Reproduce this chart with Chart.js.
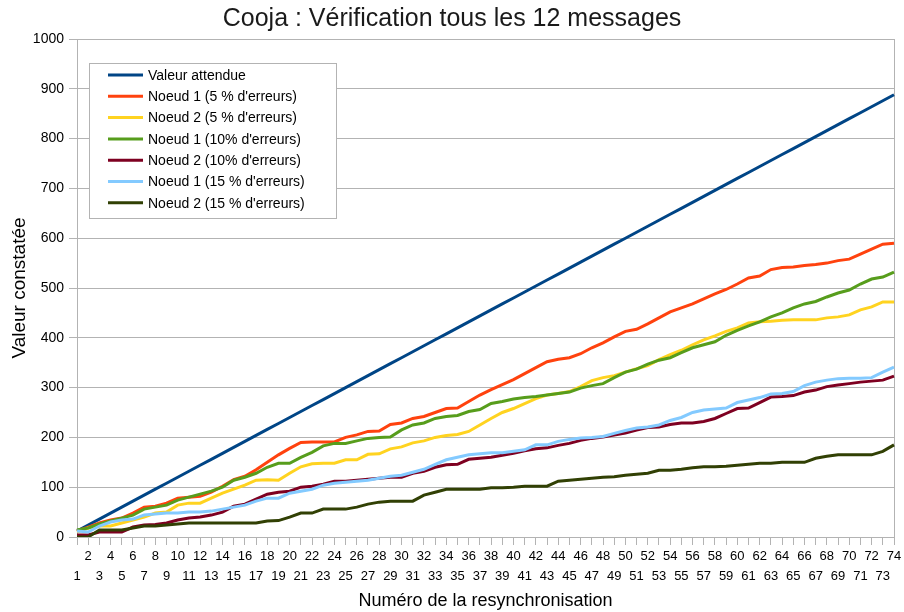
<!DOCTYPE html>
<html lang="fr">
<head>
<meta charset="utf-8">
<title>Cooja : Vérification tous les 12 messages</title>
<script src="https://cdn.jsdelivr.net/npm/chart.js@4.4.1/dist/chart.umd.min.js"></script>
<style>
    html, body { margin: 0; padding: 0; background: #fff; }
    #wrap { width: 904px; height: 612px; }
</style>
</head>
<body>
<div id="wrap"><canvas id="chart" width="904" height="612"></canvas></div>
<script>
// Numéro de la resynchronisation
const categories = [1, 2, 3, 4, 5, 6, 7, 8, 9, 10, 11, 12, 13, 14, 15, 16, 17, 18, 19, 20,
    21, 22, 23, 24, 25, 26, 27, 28, 29, 30, 31, 32, 33, 34, 35, 36, 37, 38, 39, 40,
    41, 42, 43, 44, 45, 46, 47, 48, 49, 50, 51, 52, 53, 54, 55, 56, 57, 58, 59, 60,
    61, 62, 63, 64, 65, 66, 67, 68, 69, 70, 71, 72, 73, 74];

const valeurAttendue = [12, 24, 36, 48, 60, 72, 84, 96, 108, 120, 132, 144, 156, 168, 180, 192, 204, 216, 228, 240,
    252, 264, 276, 288, 300, 312, 324, 336, 348, 360, 372, 384, 396, 408, 420, 432, 444, 456, 468, 480,
    492, 504, 516, 528, 540, 552, 564, 576, 588, 600, 612, 624, 636, 648, 660, 672, 684, 696, 708, 720,
    732, 744, 756, 768, 780, 792, 804, 816, 828, 840, 852, 864, 876, 888];

const noeud1_5 = [12, 20, 28, 34, 38, 48, 60, 62, 68, 78, 80, 82, 90, 102, 115, 122, 135, 150, 165, 178,
    190, 191, 191, 191, 200, 205, 212, 213, 226, 229, 238, 242, 250, 258, 259, 272, 285, 296, 306, 316,
    328, 340, 352, 357, 360, 368, 380, 390, 402, 413, 417, 428, 440, 452, 460, 468, 478, 488, 497, 508,
    520, 524, 537, 541, 542, 545, 547, 550, 555, 558, 568, 578, 588, 590];

const noeud2_5 = [10, 18, 22, 22, 28, 34, 40, 48, 50, 64, 68, 68, 78, 88, 96, 104, 114, 115, 114, 128,
    141, 147, 148, 148, 155, 155, 166, 167, 177, 181, 189, 193, 200, 204, 206, 212, 225, 238, 250, 258,
    268, 278, 285, 288, 292, 302, 314, 320, 324, 331, 338, 344, 356, 366, 375, 386, 396, 404, 413, 420,
    430, 432, 433, 435, 436, 436, 436, 440, 442, 446, 456, 462, 472, 472];

const noeud1_10 = [14, 18, 26, 32, 38, 44, 56, 60, 64, 74, 80, 86, 92, 100, 114, 120, 128, 140, 148, 148,
    160, 170, 183, 188, 188, 193, 198, 200, 201, 215, 225, 229, 238, 242, 244, 252, 256, 268, 272, 277,
    280, 282, 285, 288, 291, 299, 304, 308, 320, 331, 337, 347, 355, 360, 370, 380, 386, 392, 405, 415,
    424, 432, 442, 450, 460, 468, 473, 482, 490, 496, 508, 518, 522, 532];

const noeud2_10 = [4, 4, 10, 10, 10, 20, 24, 25, 28, 34, 38, 40, 44, 50, 62, 66, 76, 86, 90, 92,
    100, 102, 106, 112, 112, 114, 116, 118, 120, 120, 128, 132, 140, 145, 146, 156, 158, 160, 164, 168,
    173, 177, 179, 184, 188, 194, 198, 201, 205, 209, 215, 220, 221, 226, 229, 229, 232, 238, 248, 258,
    259, 270, 281, 282, 284, 291, 295, 302, 305, 308, 311, 313, 315, 323];

const noeud1_15 = [12, 10, 22, 30, 34, 36, 44, 46, 48, 48, 50, 50, 52, 56, 60, 64, 72, 78, 78, 88,
    92, 96, 104, 108, 110, 112, 114, 118, 122, 124, 130, 136, 146, 155, 160, 165, 167, 169, 169, 172,
    175, 185, 185, 192, 196, 199, 200, 202, 208, 214, 219, 221, 225, 234, 240, 250, 255, 257, 259, 270,
    275, 280, 287, 288, 292, 304, 311, 315, 318, 319, 319, 320, 331, 341];

const noeud2_15 = [0, 0, 14, 14, 14, 18, 22, 22, 24, 26, 28, 28, 28, 28, 28, 28, 28, 32, 33, 40,
    48, 48, 56, 56, 56, 60, 66, 70, 72, 72, 72, 84, 90, 96, 96, 96, 96, 99, 99, 100,
    102, 102, 102, 112, 114, 116, 118, 120, 121, 124, 126, 128, 134, 134, 136, 139, 141, 141, 142, 144,
    146, 148, 148, 150, 150, 150, 158, 162, 165, 165, 165, 165, 172, 185];

const seriesLabels = ['Valeur attendue', "Noeud 1 (5 % d'erreurs)", "Noeud 2 (5 % d'erreurs)",
    "Noeud 1 (10% d'erreurs)", "Noeud 2 (10% d'erreurs)", "Noeud 1 (15 % d'erreurs)", "Noeud 2 (15 % d'erreurs)"];
const seriesData = [valeurAttendue, noeud1_5, noeud2_5, noeud1_10, noeud2_10, noeud1_15, noeud2_15];
const seriesColors = ['#004586', '#ff420e', '#ffd320', '#579d1c', '#7e0021', '#83caff', '#314004'];

const yTicks = [0, 100, 200, 300, 400, 500, 600, 700, 800, 900, 1000];

const FONT = '"Liberation Sans", Arial, sans-serif';
const GRID = '#b3b3b3';

Chart.defaults.font.family = FONT;
Chart.defaults.color = '#000';

// Legend box drawn inside the plot area, top left
const legendBox = {
    id: 'legendBox',
    afterDatasetsDraw(chart) {
        const ctx = chart.ctx;
        const area = chart.chartArea;
        const x = area.left + 12, y = area.top + 24, w = 247, h = 155;
        ctx.save();
        ctx.fillStyle = '#fff';
        ctx.fillRect(x, y, w, h);
        ctx.strokeStyle = GRID;
        ctx.lineWidth = 1;
        ctx.strokeRect(x + 0.5, y + 0.5, w, h);
        ctx.font = '14px ' + FONT;
        ctx.textBaseline = 'middle';
        chart.data.datasets.forEach((ds, i) => {
            const cy = y + 12 + i * 21.3;
            ctx.strokeStyle = ds.borderColor;
            ctx.lineWidth = 3;
            ctx.beginPath();
            ctx.moveTo(x + 19, cy);
            ctx.lineTo(x + 54, cy);
            ctx.stroke();
            ctx.fillStyle = '#000';
            ctx.fillText(ds.label, x + 59, cy + 1);
        });
        ctx.restore();
    }
};

new Chart(document.getElementById('chart').getContext('2d'), {
    type: 'line',
    data: {
        labels: categories,
        datasets: seriesData.map((d, i) => ({
            label: seriesLabels[i],
            data: d,
            borderColor: seriesColors[i],
            backgroundColor: seriesColors[i],
            borderWidth: 3,
            pointRadius: 0,
            tension: 0,
            fill: false,
            order: seriesData.length - i
        }))
    },
    options: {
        responsive: false,
        animation: false,
        devicePixelRatio: 1,
        layout: { padding: 0 },
        plugins: {
            legend: { display: false },
            tooltip: { enabled: false },
            title: {
                display: true,
                text: 'Cooja : Vérification tous les 12 messages',
                font: { size: 25, weight: 'normal' },
                color: '#1a1a1a',
                padding: { top: 4, bottom: 5 }
            }
        },
        scales: {
            x: {
                offset: false,
                grid: { display: true, drawOnChartArea: false, tickLength: 8, color: GRID },
                border: { color: GRID },
                ticks: {
                    autoSkip: false,
                    maxRotation: 0,
                    minRotation: 0,
                    padding: 2,
                    font: { size: 13, lineHeight: 1.5 },
                    callback: function(value, index) {
                        const n = categories[index];
                        return n % 2 === 0 ? [String(n), ''] : ['', String(n)];
                    }
                },
                title: {
                    display: true,
                    text: 'Numéro de la resynchronisation',
                    font: { size: 18 },
                    padding: { top: 0, bottom: 0 }
                },
                afterFit: s => { s.height = 75; }
            },
            y: {
                min: 0,
                max: 1000,
                afterBuildTicks: s => { s.ticks = yTicks.map(v => ({ value: v })); },
                grid: { color: GRID, tickLength: 8 },
                border: { color: GRID },
                ticks: {
                    padding: 5,
                    font: { size: 14 },
                    callback: v => String(v)
                },
                title: {
                    display: true,
                    text: 'Valeur constatée',
                    font: { size: 19 },
                    padding: { top: 8, bottom: 0 }
                },
                afterFit: s => { s.width = 77; }
            },
            y2: {
                position: 'right',
                min: 0,
                max: 1000,
                grid: { display: false },
                ticks: { display: false },
                border: { display: true, color: GRID },
                afterFit: s => { s.width = 10; }
            }
        }
    },
    plugins: [legendBox]
});
</script>
</body>
</html>
